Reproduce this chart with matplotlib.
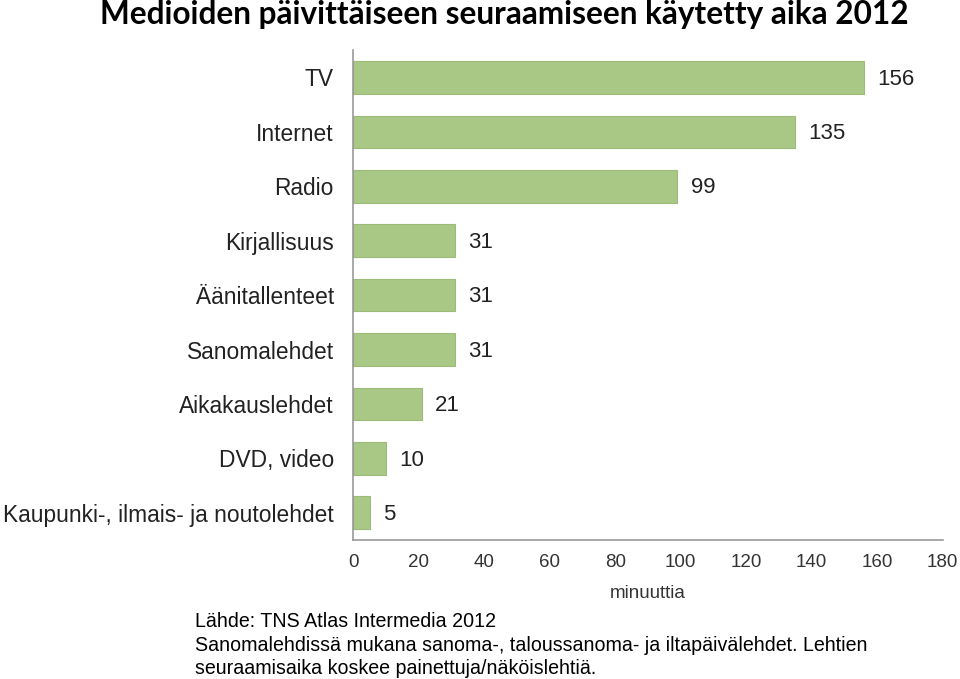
import numpy as np
import matplotlib
matplotlib.use('Agg')
import matplotlib.pyplot as plt

# Data
categories = ['TV', 'Internet', 'Radio', 'Kirjallisuus', 'Äänitallenteet',
              'Sanomalehdet', 'Aikakauslehdet', 'DVD, video',
              'Kaupunki-, ilmais- ja noutolehdet']
minutes = [156, 135, 99, 31, 31, 31, 21, 10, 5]
xticks = [0, 20, 40, 60, 80, 100, 120, 140, 160, 180]

title = 'Medioiden päivittäiseen seuraamiseen käytetty aika 2012'
footer = ['Lähde: TNS Atlas Intermedia 2012',
          'Sanomalehdissä mukana sanoma-, taloussanoma- ja iltapäivälehdet. Lehtien',
          'seuraamisaika koskee painettuja/näköislehtiä.']

plt.rcParams['font.family'] = ['Liberation Sans', 'DejaVu Sans']

fig = plt.figure(figsize=(9.6, 6.79), dpi=100)
ax = fig.add_axes([0.368, 0.2047, 0.614, 0.7213])

y = np.arange(len(categories))
ax.barh(y, minutes, height=0.6, color='#a9c886', edgecolor='#9cba7a', linewidth=0.8)
for yi, v in zip(y, minutes):
    ax.text(v + 4, yi + 0.03, str(v), va='center', ha='left', fontsize=16, color='#222222')

ax.set_ylim(len(categories) - 0.5, -0.5)
ax.set_xlim(0, 180)
ax.set_yticks(y)
ax.set_yticklabels(categories, fontsize=16.4, color='#222222')
ax.set_xticks(xticks)
ax.set_xticklabels([str(t) for t in xticks], fontsize=13.5, color='#333333')
ax.tick_params(axis='both', length=0)
ax.tick_params(axis='y', pad=14)
ax.tick_params(axis='x', pad=10)
ax.set_xlabel('minuuttia', fontsize=13.5, color='#333333', labelpad=10)

for s in ['top', 'right']:
    ax.spines[s].set_visible(False)
for s in ['left', 'bottom']:
    ax.spines[s].set_color('#999999')
    ax.spines[s].set_linewidth(1.2)

fig.text(0.104, 0.979, title, fontsize=22.7, fontweight='bold', family=['Lato', 'DejaVu Sans'],
         ha='left', va='center')

fy = [0.084, 0.049, 0.016]
for line, yy in zip(footer, fy):
    fig.text(0.203, yy, line, fontsize=14.1, ha='left', va='center')

plt.savefig('out.png', dpi=100)
